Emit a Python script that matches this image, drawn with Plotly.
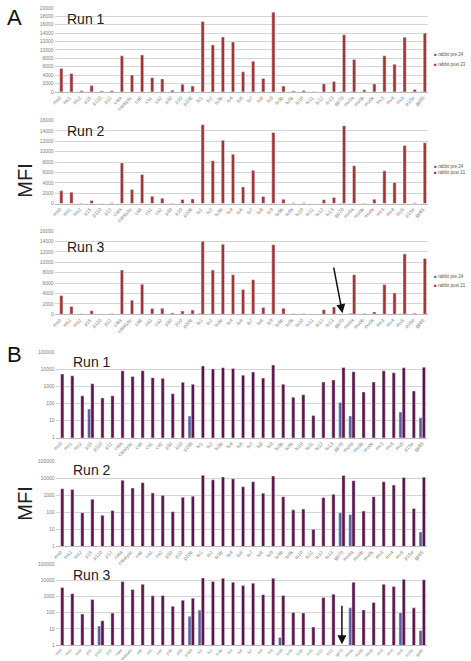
import plotly.graph_objects as go

categories = ["ms0", "ms1", "ms2", "p15", "p110", "p12", "cata", "catalytic", "ca8", "ca1",
              "ca2", "p30", "p10", "p108", "tu1", "tu2", "tu3b", "tu4", "tu6", "tu7",
              "tu8", "tu9", "tu9b", "tu9k", "tu10", "tu11", "tu12", "tu13", "gp70", "mv0a",
              "mv0b", "mv0k", "mv3", "mv4", "mv5", "p15e", "gp85"]

post_run1 = [5600, 4400, 290, 1500, 220, 290, 8600, 4000, 8800, 3400,
             3100, 390, 1800, 1400, 16800, 11200, 13100, 11900, 4800, 7300,
             3200, 19000, 1380, 240, 340, 20, 1900, 2500, 13600, 7700,
             490, 1900, 8600, 6600, 13000, 560, 14000]
pre_run1 = [0, 0, 0, 48, 0, 0, 0, 0, 0, 0,
            0, 0, 0, 19, 0, 0, 0, 0, 0, 0,
            0, 0, 0, 0, 0, 0, 0, 0, 118, 19,
            0, 0, 0, 0, 32, 0, 15]

post_run2 = [2450, 2200, 95, 600, 67, 130, 7800, 2700, 5600, 1400,
             1000, 110, 780, 900, 15200, 8250, 12200, 9500, 3200, 6400,
             1350, 13700, 830, 140, 155, 10, 750, 1150, 15000, 7300,
             120, 830, 6300, 4050, 11200, 170, 11700]
pre_run2 = [0, 0, 0, 0, 0, 0, 0, 0, 0, 0,
            0, 0, 0, 0, 0, 0, 0, 0, 0, 0,
            0, 0, 0, 0, 0, 0, 0, 0, 95, 75,
            0, 0, 0, 0, 0, 0, 7]

post_run3 = [3600, 1500, 83, 660, 32, 95, 8500, 2700, 5750, 1100,
             1150, 250, 600, 790, 14050, 8500, 13500, 7600, 4750, 6650,
             1300, 13400, 1150, 105, 98, 13, 870, 1400, 0, 7600,
             150, 430, 5700, 4100, 11600, 200, 10750]
pre_run3 = [0, 0, 0, 0, 15, 0, 0, 0, 0, 0,
            0, 0, 0, 60, 145, 0, 0, 0, 0, 0,
            0, 0, 3, 0, 0, 0, 0, 0, 0, 200,
            0, 0, 0, 0, 100, 0, 8]

run_titles = ["Run 1", "Run 2", "Run 3"]
legend_pre = "rabbit pre 24"
legend_post = ["rabbit post 23", "rabbit post 21", "rabbit post 21"]
log_tickvals = [1, 10, 100, 1000, 10000, 100000]
log_ticktext = ["1", "10", "100", "1000", "10000", "100000"]

W, H = 471, 661
FONT = "Liberation Sans, Arial, sans-serif"

def px_y(y):
    return 1 - y / H

def px_x(x):
    return x / W

A_red = "#A33535"
A_blue = "#4A74B8"
B_purple = "#5E1448"
B_blue = "#5C5A98"

# panel pixel boxes: (x0, x1, ytop, ybottom)
panels = [
    (52, 428, 5, 90),
    (52, 428, 119, 203),
    (52, 428, 231, 315),
    (53, 427, 354, 440),
    (53, 427, 464, 550),
    (53, 427, 568, 650),
]

posts = [post_run1, post_run2, post_run3]
pres = [pre_run1, pre_run2, pre_run3]
a_ranges = [20000, 16000, 16000]

fig = go.Figure()
layout = {}

for i in range(6):
    ax = "" if i == 0 else str(i + 1)
    xref = "x" + ax
    yref = "y" + ax
    run = i % 3
    is_log = i >= 3
    post = posts[run]
    pre = pres[run]
    if is_log:
        c_post, c_pre = B_purple, B_blue
        pre_vals = [v if v > 0 else None for v in pre]
        post_vals = [v if v > 0 else None for v in post]
    else:
        c_post, c_pre = A_red, A_blue
        pre_vals = pre
        post_vals = post
    kw = dict(xaxis=xref, yaxis=yref)
    fig.add_trace(go.Bar(x=categories, y=pre_vals, name=legend_pre, marker_color=c_pre,
                         width=0.32, offset=-0.32, showlegend=False, **kw))
    fig.add_trace(go.Bar(x=categories, y=post_vals, name=legend_post[run], marker_color=c_post,
                         width=0.32, offset=0.0, showlegend=False, **kw))

    x0, x1, yt, yb = panels[i]
    tick_size = 4 if i == 5 else 5
    layout["xaxis" + ax] = dict(
        domain=[px_x(x0), px_x(x1)], anchor=yref, type="category",
        tickangle=-45, tickfont=dict(size=tick_size, color="#808080", family=FONT),
        showline=True, linecolor="#bbbbbb", linewidth=1, ticks="", showgrid=False,
        range=[-0.5, len(categories) - 0.5])
    ydict = dict(domain=[px_y(yb), px_y(yt)], anchor=xref,
                 tickfont=dict(size=5, color="#808080", family=FONT),
                 showgrid=True, gridcolor="#d4d4d4", gridwidth=1,
                 zeroline=False, showline=False, ticks="")
    if is_log:
        ydict.update(type="log", range=[0, 5], tickvals=log_tickvals, ticktext=log_ticktext)
    else:
        ydict.update(range=[0, a_ranges[run]], dtick=2000, tickformat="d")
    layout["yaxis" + ax] = ydict

annotations = []
# legends for panel A (drawn as text with coloured squares)
legend_rows = [(52, 62), (165, 172), (277, 286)]
for run, (y_pre, y_post) in enumerate(legend_rows):
    for yy, col, txt in [(y_pre, A_blue, legend_pre), (y_post, A_red, legend_post[run])]:
        annotations.append(dict(
            text=f"<span style='color:{col}'>■</span> {txt}",
            x=px_x(432), y=px_y(yy), xref="paper", yref="paper",
            xanchor="left", yanchor="middle", showarrow=False,
            font=dict(size=4.5, color="#555555", family=FONT)))

# run titles
title_pos = [(62, 16), (62, 130), (62, 247), (68, 363), (68, 473), (68, 579)]
for i, (tx, ty) in enumerate(title_pos):
    annotations.append(dict(text=run_titles[i % 3], x=px_x(tx), y=px_y(ty), xref="paper", yref="paper",
                            xanchor="left", yanchor="middle", showarrow=False,
                            font=dict(size=14, color="#222222", family=FONT)))
# panel letters
annotations.append(dict(text="A", x=px_x(2), y=px_y(15), xref="paper", yref="paper",
                        xanchor="left", yanchor="middle", showarrow=False,
                        font=dict(size=22, color="#111111", family=FONT)))
annotations.append(dict(text="B", x=px_x(2), y=px_y(356), xref="paper", yref="paper",
                        xanchor="left", yanchor="middle", showarrow=False,
                        font=dict(size=22, color="#111111", family=FONT)))
# MFI labels
for my in [180, 507]:
    annotations.append(dict(text="MFI", x=px_x(22), y=px_y(my), xref="paper", yref="paper",
                            xanchor="center", yanchor="middle", showarrow=False, textangle=-90,
                            font=dict(size=20, color="#222222", family=FONT)))
# arrows marking gp70 in run 3
annotations.append(dict(x="gp70", y=200, xref="x3", yref="y3", text="", showarrow=True,
                        arrowhead=2, arrowsize=1.2, arrowwidth=1.5, arrowcolor="#111111",
                        ax=-9, ay=-47))
annotations.append(dict(x="gp70", y=0.05, xref="x6", yref="y6", text="", showarrow=True,
                        arrowhead=2, arrowsize=1.2, arrowwidth=1.5, arrowcolor="#111111",
                        ax=0, ay=-40))

fig.update_layout(**layout)
fig.update_layout(width=W, height=H, margin=dict(l=0, r=0, t=0, b=0),
                  paper_bgcolor="white", plot_bgcolor="white",
                  barmode="overlay", annotations=annotations, showlegend=False,
                  font=dict(family=FONT))

fig.write_html("out.html", config={"displayModeBar": False},
               post_script="document.body.style.margin='0';document.body.style.padding='0';")
